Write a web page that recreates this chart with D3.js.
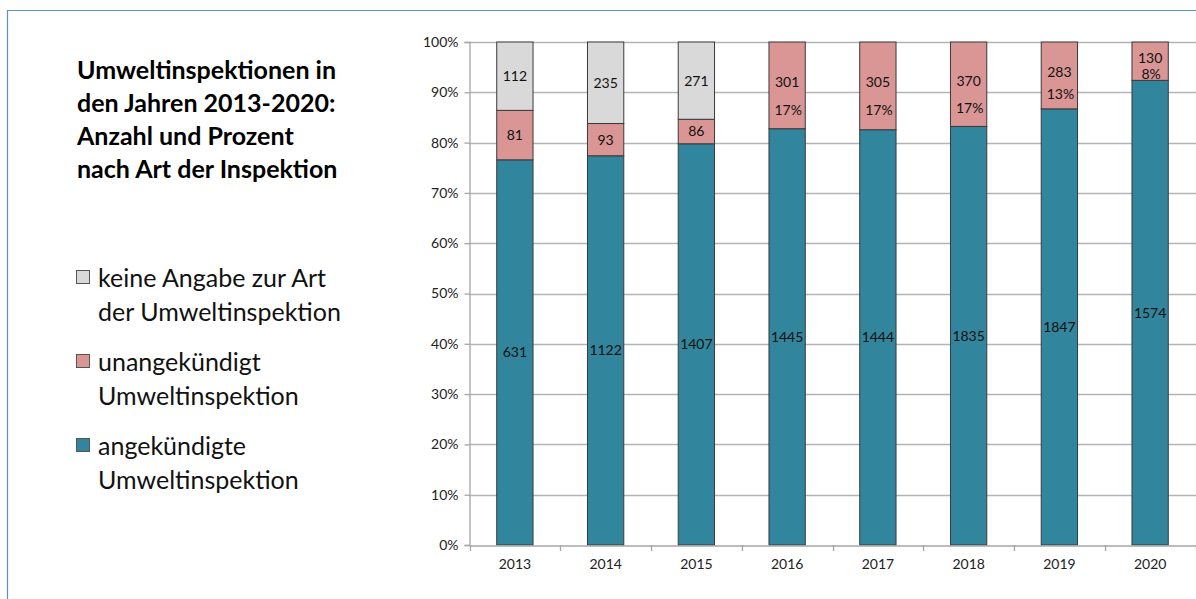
<!DOCTYPE html>
<html>
<head>
<meta charset="utf-8">
<script src="https://cdn.jsdelivr.net/npm/d3@7"></script>
<style>
  html, body { margin: 0; padding: 0; background: #fff; }
  svg { display: block; }
</style>
</head>
<body>
<svg id="chart" width="1196" height="599"></svg>
<script>
// Inspection counts per year, by type
const years = ["2013", "2014", "2015", "2016", "2017", "2018", "2019", "2020"];
const angekuendigt   = [631, 1122, 1407, 1445, 1444, 1835, 1847, 1574];
const unangekuendigt = [81, 93, 86, 301, 305, 370, 283, 130];
const keineAngabe    = [112, 235, 271, 0, 0, 0, 0, 0];
// Years in which the share of unannounced inspections is printed as well
const showShare      = [false, false, false, true, true, true, true, true];

const yTicks = [0, 0.1, 0.2, 0.3, 0.4, 0.5, 0.6, 0.7, 0.8, 0.9, 1.0];
const titleLines = ["Umweltinspektionen in", "den Jahren 2013-2020:", "Anzahl und Prozent", "nach Art der Inspektion"];
const legendItems = [
  { key: "keine", lines: ["keine Angabe zur Art", "der Umweltinspektion"] },
  { key: "unang", lines: ["unangekündigt", "Umweltinspektion"] },
  { key: "ang",   lines: ["angekündigte", "Umweltinspektion"] }
];
const colors = { ang: "#31859c", unang: "#d99694", keine: "#d9d9d9" };

const FONT = "Lato, 'Open Sans', sans-serif";
const svg = d3.select("#chart");

// Frame lines along top and left edge
svg.append("line").attr("x1", 7).attr("x2", 1196).attr("y1", 10.5).attr("y2", 10.5)
  .attr("stroke", "#5b8fd0").attr("stroke-width", 1.2);
svg.append("line").attr("x1", 7.5).attr("x2", 7.5).attr("y1", 10).attr("y2", 599)
  .attr("stroke", "#5b8fd0").attr("stroke-width", 1.2);

// Title
svg.append("g").selectAll("text").data(titleLines).join("text")
  .attr("x", 77).attr("y", (d, i) => 79 + i * 33)
  .attr("font-family", FONT).attr("font-weight", "bold").attr("font-size", 25)
  .attr("fill", "#000").text(d => d);

// Legend
const lg = svg.append("g");
legendItems.forEach((it, i) => {
  const base = 287 + i * 84;
  lg.append("rect").attr("x", 76.5).attr("y", base - 16.5).attr("width", 13).attr("height", 13)
    .attr("fill", colors[it.key]).attr("stroke", "#555").attr("stroke-width", 1);
  it.lines.forEach((ln, j) => {
    lg.append("text").attr("x", 98).attr("y", base + j * 34)
      .attr("font-family", FONT).attr("font-size", 25).attr("fill", "#111").text(ln);
  });
});

// Scales
const x = d3.scaleBand().domain(years).range([469.5, 1195.5]).paddingInner(0).paddingOuter(0);
const y = d3.scaleLinear().domain([0, 1]).range([545, 42]);
const barW = x.bandwidth() * 0.4;

// Gridlines
svg.append("g").selectAll("line").data(yTicks.filter(t => t > 0)).join("line")
  .attr("x1", 469).attr("x2", 1196)
  .attr("y1", d => Math.round(y(d)) + 0.5).attr("y2", d => Math.round(y(d)) + 0.5)
  .attr("stroke", "#b4b4b4").attr("stroke-width", 1.3);

// Y axis
const yAxis = svg.append("g").attr("transform", "translate(469.5,0)")
  .call(d3.axisLeft(y).tickValues(yTicks).tickFormat(d3.format(".0%")).tickSize(5).tickPadding(6));
yAxis.select(".domain").attr("stroke", "#a6a6a6").attr("stroke-width", 1.3);
yAxis.selectAll(".tick line").attr("stroke", "#a6a6a6").attr("stroke-width", 1.3);
yAxis.selectAll("text").attr("font-family", FONT).attr("font-size", 14).attr("fill", "#222");

// Stacked shares
const rows = years.map((yr, i) => {
  const tot = angekuendigt[i] + unangekuendigt[i] + keineAngabe[i];
  return { year: yr, ang: angekuendigt[i] / tot, unang: unangekuendigt[i] / tot, keine: keineAngabe[i] / tot,
           counts: { ang: angekuendigt[i], unang: unangekuendigt[i], keine: keineAngabe[i] }, share: showShare[i] };
});
const keys = ["ang", "unang", "keine"];
const stack = d3.stack().keys(keys)(rows);

const LABEL_SIZE = 14;
const bars = svg.append("g");
stack.forEach(layer => {
  const key = layer.key;
  layer.forEach(seg => {
    const d = seg.data;
    if (d.counts[key] === 0) return;
    const x0 = x(d.year) + (x.bandwidth() - barW) / 2;
    const yTop = y(seg[1]), yBot = y(seg[0]);
    bars.append("rect").attr("x", x0).attr("y", yTop).attr("width", barW).attr("height", yBot - yTop)
      .attr("fill", colors[key]).attr("stroke", "#3a3a3a").attr("stroke-width", 1);
    const cx = x(d.year) + x.bandwidth() / 2;
    const mid = (yTop + yBot) / 2;
    const h = yBot - yTop;
    if (key === "unang" && d.share) {
      // count and share stacked; spacing shrinks with the segment height
      const gap = Math.max(16, Math.min(28, 0.33 * h));
      const cy = mid - 3.5;
      bars.append("text").attr("x", cx).attr("y", cy).attr("dy", "0.35em")
        .attr("text-anchor", "middle").attr("font-family", FONT).attr("font-size", LABEL_SIZE).attr("fill", "#111")
        .text(d.counts[key]);
      bars.append("text").attr("x", cx + 1).attr("y", cy + gap).attr("dy", "0.35em")
        .attr("text-anchor", "middle").attr("font-family", FONT).attr("font-size", LABEL_SIZE).attr("fill", "#111")
        .text(Math.round(d.unang * 100) + "%");
    } else {
      bars.append("text").attr("x", cx).attr("y", mid).attr("dy", "0.35em")
        .attr("text-anchor", "middle").attr("font-family", FONT).attr("font-size", LABEL_SIZE).attr("fill", "#111")
        .text(d.counts[key]);
    }
  });
});

// X axis
const xAxis = svg.append("g").attr("transform", "translate(0,545.5)")
  .call(d3.axisBottom(x).tickSize(0).tickPadding(14));
xAxis.select(".domain").attr("stroke", "#a6a6a6").attr("stroke-width", 1.3);
xAxis.selectAll("text").attr("font-family", FONT).attr("font-size", 14).attr("fill", "#222");
// Tick marks between categories
svg.append("g").selectAll("line").data(years.concat(["end"])).join("line")
  .attr("x1", (d, i) => Math.round(i < years.length ? x(d) : x.range()[1]) + 0.5)
  .attr("x2", (d, i) => Math.round(i < years.length ? x(d) : x.range()[1]) + 0.5)
  .attr("y1", 545).attr("y2", 551)
  .attr("stroke", "#a6a6a6").attr("stroke-width", 1.3);
</script>
</body>
</html>
